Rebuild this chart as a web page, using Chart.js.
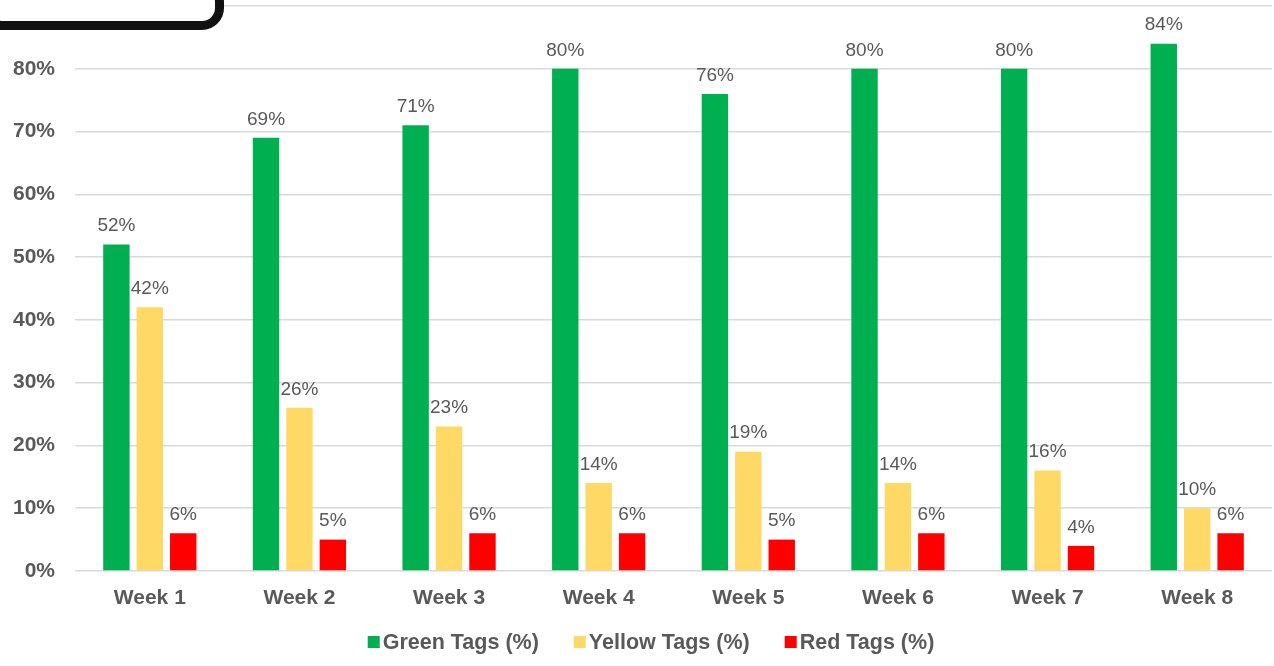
<!DOCTYPE html>
<html>
<head>
<meta charset="utf-8">
<script src="https://cdn.jsdelivr.net/npm/chart.js@4"></script>
<style>
  html, body { margin: 0; padding: 0; background: #fff; overflow: hidden; }
  #wrap { position: relative; width: 1274px; height: 666px; }
  #corner {
    position: absolute; left: -20px; top: -20px;
    width: 226px; height: 32px;
    border: 9px solid #111; border-radius: 22px;
    background: #fff;
  }
</style>
</head>
<body>
<div id="wrap">
  <canvas id="chart" width="1274" height="666"></canvas>
  <div id="corner"></div>
</div>
<script>
const weeks = ["Week 1", "Week 2", "Week 3", "Week 4", "Week 5", "Week 6", "Week 7", "Week 8"];
const greenTags = [52, 69, 71, 80, 76, 80, 80, 84];
const yellowTags = [42, 26, 23, 14, 19, 14, 16, 10];
const redTags = [6, 5, 6, 6, 5, 6, 4, 6];

const textGrey = "#595959";
const fontFamily = "'Liberation Sans', Arial, sans-serif";

// draws the value above every bar
const barValues = {
    id: "barValues",
    afterDatasetsDraw(chart) {
        const ctx = chart.ctx;
        ctx.save();
        ctx.font = "19px " + fontFamily;
        ctx.fillStyle = textGrey;
        ctx.textAlign = "center";
        ctx.textBaseline = "bottom";
        chart.data.datasets.forEach((ds, i) => {
            chart.getDatasetMeta(i).data.forEach((bar, j) => {
                ctx.fillText(ds.data[j] + "%", bar.x, bar.y - 9);
            });
        });
        ctx.restore();
    }
};

// legend like the office one: small square, tight gap, wide spacing
const bottomLegend = {
    id: "bottomLegend",
    afterDraw(chart) {
        const ctx = chart.ctx;
        const y = 642;
        const box = 12, gap = 3, spacing = 35;
        ctx.save();
        ctx.font = "bold 21.5px " + fontFamily;
        const items = chart.data.datasets.map(ds => ({
            text: ds.label, color: ds.backgroundColor, w: ctx.measureText(ds.label).width
        }));
        let total = items.reduce((s, it) => s + box + gap + it.w, 0) + spacing * (items.length - 1);
        let x = chart.width / 2 + 14 - total / 2;
        ctx.textBaseline = "middle";
        ctx.textAlign = "left";
        items.forEach(it => {
            ctx.fillStyle = it.color;
            ctx.fillRect(x, y - box / 2, box, box);
            x += box + gap;
            ctx.fillStyle = textGrey;
            ctx.fillText(it.text, x, y + 1);
            x += it.w + spacing;
        });
        ctx.restore();
    }
};

Chart.defaults.font.family = fontFamily;
Chart.defaults.color = textGrey;

new Chart(document.getElementById("chart"), {
    type: "bar",
    data: {
        labels: weeks,
        datasets: [
            { label: "Green Tags (%)", data: greenTags, backgroundColor: "#00B050" },
            { label: "Yellow Tags (%)", data: yellowTags, backgroundColor: "#FFD966" },
            { label: "Red Tags (%)", data: redTags, backgroundColor: "#FF0000" }
        ]
    },
    options: {
        responsive: false,
        animation: false,
        layout: { padding: { top: 6, right: 2, left: 0, bottom: 0 } },
        datasets: {
            bar: { categoryPercentage: 0.67, barPercentage: 0.79 }
        },
        scales: {
            x: {
                grid: { display: false, drawTicks: false },
                border: { display: false },
                ticks: { padding: 15, font: { size: 21, weight: "bold" } },
                afterFit(scale) {
                    scale.height = 95;
                    scale.paddingLeft = 0;
                    scale.paddingRight = 0;
                }
            },
            y: {
                min: 0,
                max: 90,
                grid: { color: "#d9d9d9", lineWidth: 1.5, drawTicks: false },
                border: { display: false },
                ticks: {
                    stepSize: 10,
                    padding: 20,
                    font: { size: 21, weight: "bold" },
                    callback: v => v + "%"
                },
                afterFit(scale) {
                    scale.width = 75;
                    scale.paddingTop = 0;
                    scale.paddingBottom = 0;
                }
            }
        },
        plugins: {
            legend: { display: false },
            tooltip: { enabled: false }
        }
    },
    plugins: [barValues, bottomLegend]
});
</script>
</body>
</html>
